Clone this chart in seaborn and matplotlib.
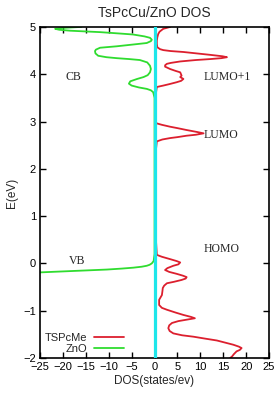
import numpy as np
import pandas as pd
import matplotlib
matplotlib.use("Agg")
import matplotlib.pyplot as plt
import seaborn as sns

# ZnO DOS (states/eV) vs energy (eV)
zno_E = [5.00, 4.98, 4.96, 4.94, 4.92, 4.89, 4.86, 4.84, 4.80, 4.77, 4.73, 4.70,
         4.66, 4.63, 4.59, 4.56, 4.52, 4.49, 4.44, 4.39, 4.36, 4.34, 4.32, 4.30,
         4.25, 4.18, 4.11, 4.04, 3.98, 3.94, 3.90, 3.85, 3.80, 3.76, 3.72, 3.69,
         3.66, 3.62, 3.50, 2.00, 1.00, 0.20, 0.05, 0.00, -0.03, -0.05, -0.07,
         -0.09, -0.11, -0.13, -0.16, -0.19, -0.21]
zno_dos = [-16.0, -20.0, -21.7, -20.8, -18.4, -11.9, -7.5, -4.7, -2.2, -1.0, -0.6, -0.8,
           -1.7, -4.5, -8.3, -11.9, -12.8, -13.0, -12.9, -12.3, -10.5, -8.3, -5.5, -3.2,
           -1.6, -1.0, -0.8, -1.0, -1.5, -2.4, -3.8, -5.3, -5.6, -5.0, -3.4, -1.7,
           -0.8, -0.3, 0.0, 0.0, 0.0, 0.0, -0.2, -0.6, -1.1, -1.7, -2.8,
           -4.6, -7.2, -10.4, -17.7, -25.0, -28.0]

# TSPcMe DOS
ts_E = [5.00, 4.96, 4.90, 4.85, 4.78, 4.71, 4.64, 4.57, 4.53, 4.51, 4.49, 4.47,
        4.44, 4.41, 4.38, 4.36, 4.34, 4.32, 4.30, 4.27, 4.24, 4.22, 4.19, 4.16,
        4.11, 4.07, 4.04, 3.97, 3.94, 3.90, 3.86, 3.83, 3.79, 3.76, 3.73, 3.60,
        3.20, 2.98, 2.96, 2.93, 2.89, 2.86, 2.82, 2.78, 2.75, 2.72, 2.70, 2.67,
        2.65, 2.62, 2.58, 2.40, 1.50, 0.50, 0.18, 0.14, 0.09, 0.05, 0.02, -0.02,
        -0.05, -0.10, -0.14, -0.18, -0.22, -0.26, -0.29, -0.32, -0.35, -0.39, -0.42,
        -0.47, -0.52, -0.60, -0.67, -0.77, -0.88, -0.94, -0.98, -1.04, -1.09, -1.13,
        -1.16, -1.19, -1.22, -1.26, -1.31, -1.37, -1.43, -1.48, -1.52, -1.55, -1.59,
        -1.63, -1.68, -1.72, -1.76, -1.79, -1.83, -1.86, -1.92, -1.97, -2.00]
ts_dos = [3.4, 1.9, 1.1, 0.8, 0.6, 0.5, 0.5, 0.6, 1.2, 1.9, 3.5, 6.3,
          9.2, 12.1, 14.8, 15.8, 14.6, 12.1, 9.0, 5.6, 3.6, 2.7, 2.3, 2.3,
          3.4, 4.6, 5.6, 5.9, 5.6, 6.3, 5.8, 4.8, 3.2, 1.9, 0.5, 0.3,
          0.3, 0.3, 0.5, 1.6, 3.4, 5.0, 7.0, 9.2, 10.7, 9.0, 7.0, 5.0,
          3.4, 1.7, 0.5, 0.3, 0.3, 0.3, 0.5, 1.6, 3.4, 4.8, 5.6, 5.2,
          4.1, 2.8, 2.3, 3.2, 4.8, 6.2, 7.0, 6.8, 5.9, 4.2, 2.7,
          2.1, 1.8, 1.7, 1.6, 1.0, 1.0, 1.6, 2.7, 4.6, 6.3, 7.9,
          8.8, 7.0, 5.2, 3.8, 3.2, 3.0, 3.3, 4.1, 6.0, 8.5, 11.0,
          13.6, 15.6, 17.2, 18.4, 19.0, 18.6, 17.9, 17.3, 16.9, 16.5]

xticks = [-25, -20, -15, -10, -5, 0, 5, 10, 15, 20, 25]
yticks = [-2, -1, 0, 1, 2, 3, 4, 5]

sns.set_theme(style="ticks")
plt.rcParams["font.family"] = ["Liberation Sans", "DejaVu Sans"]

fig = plt.figure(figsize=(2.76, 3.96), dpi=100)
ax = fig.add_axes([0.145, 0.096, 0.830, 0.836])

red = "#dc1f2e"
green = "#2fdc2f"
cyan = "#1ee6ea"

df_ts = pd.DataFrame({"dos": ts_dos, "E": ts_E})
df_zn = pd.DataFrame({"dos": zno_dos, "E": zno_E})
sns.lineplot(data=df_ts, x="dos", y="E", sort=False, estimator=None, color=red,
             linewidth=1.3, ax=ax, label="TSPcMe")
sns.lineplot(data=df_zn, x="dos", y="E", sort=False, estimator=None, color=green,
             linewidth=1.3, ax=ax, label="ZnO")
ax.axvline(0, color=cyan, linewidth=2.3, zorder=5)

ax.set_xlim(-25, 25)
ax.set_ylim(-2, 5)
ax.set_xticks(xticks)
ax.set_yticks(yticks)
ax.tick_params(direction="in", length=4, width=1, top=True, right=True,
               labelsize=8, pad=3, colors="black")
for s in ax.spines.values():
    s.set_linewidth(1.2)
    s.set_color("black")

ax.set_xlabel("DOS(states/ev)", fontsize=8.5, labelpad=2)
ax.set_ylabel("E(eV)", fontsize=8.5, labelpad=4)
ax.set_title("TsPcCu/ZnO DOS", fontsize=10, pad=7)

serif = dict(family="Liberation Serif", fontsize=8.5, va="center")
ax.text(-19.5, 3.94, "CB", ha="left", **serif)
ax.text(10.8, 3.94, "LUMO+1", ha="left", **serif)
ax.text(10.8, 2.72, "LUMO", ha="left", **serif)
ax.text(10.8, 0.31, "HOMO", ha="left", **serif)
ax.text(-18.7, 0.06, "VB", ha="left", **serif)

leg = ax.legend(loc="lower left", markerfirst=False, frameon=False, fontsize=8,
                handlelength=2.7, handletextpad=0.6, labelspacing=0.05,
                borderaxespad=0.2, borderpad=0.2)

fig.savefig("out.png", dpi=100)
